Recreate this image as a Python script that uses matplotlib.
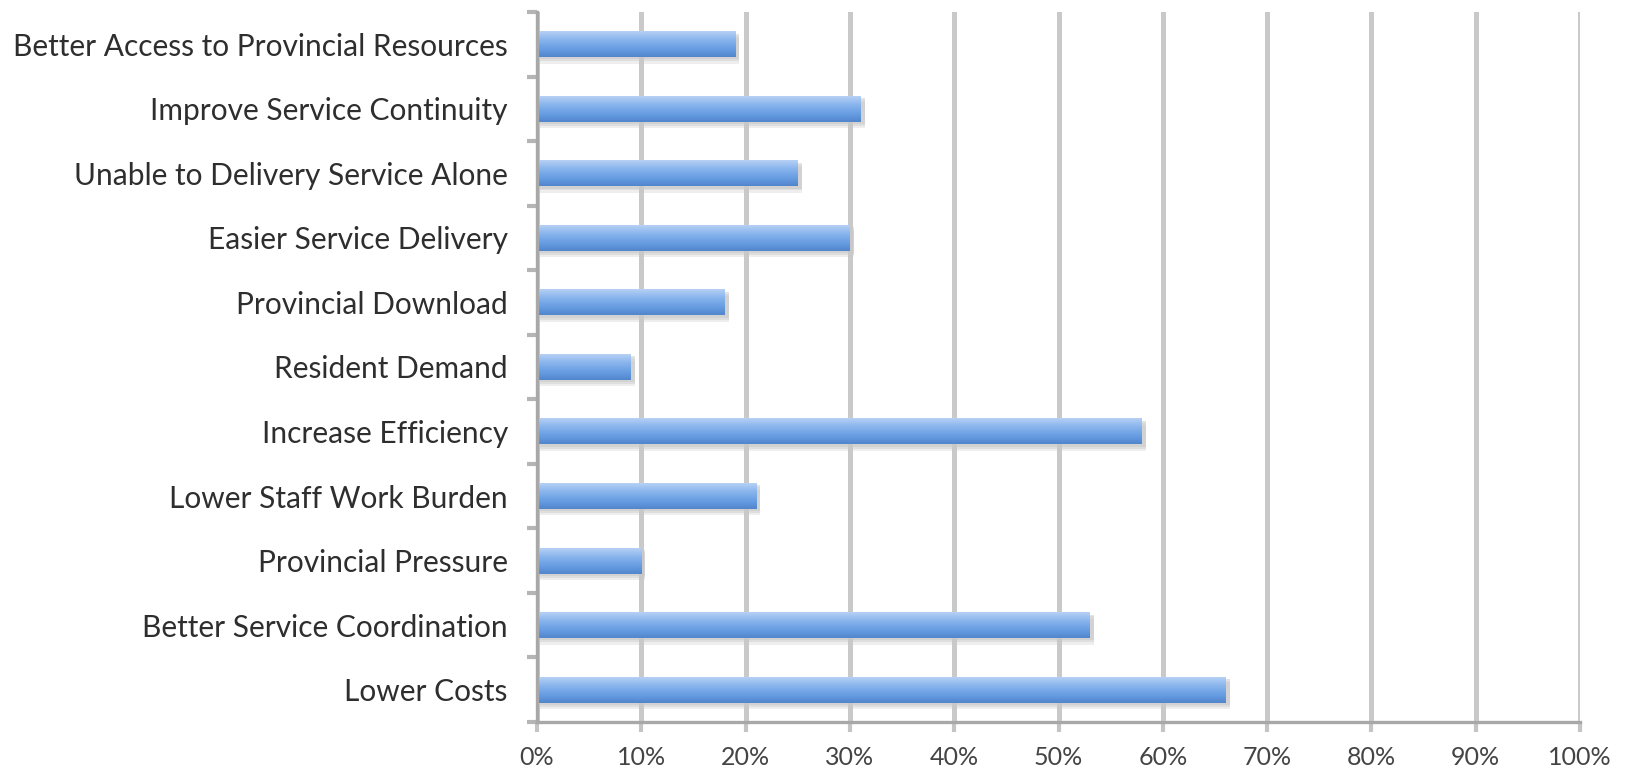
import matplotlib
matplotlib.use("Agg")
import matplotlib.pyplot as plt
import numpy as np
from matplotlib.colors import LinearSegmentedColormap
from matplotlib.ticker import FixedLocator, PercentFormatter

plt.rcParams['font.family'] = ['Lato', 'DejaVu Sans']

# categories listed bottom to top
categories = [
    "Lower Costs",
    "Better Service Coordination",
    "Provincial Pressure",
    "Lower Staff Work Burden",
    "Increase Efficiency",
    "Resident Demand",
    "Provincial Download",
    "Easier Service Delivery",
    "Unable to Delivery Service Alone",
    "Improve Service Continuity",
    "Better Access to Provincial Resources",
]
shares = [66, 53, 10, 21, 58, 9, 18, 30, 25, 31, 19]
xticks = [0, 10, 20, 30, 40, 50, 60, 70, 80, 90, 100]

W, H = 1632, 779
fig = plt.figure(figsize=(W / 100, H / 100), dpi=100)
ax = fig.add_axes([537 / W, 1 - 722 / H, (1580 - 537) / W, (722 - 12) / H])

bar_h = 0.4
grad = LinearSegmentedColormap.from_list(
    "bar", ["#b6d1f4", "#93bbef", "#78a9e8", "#6399df", "#5286cc"])
g = np.linspace(0, 1, 64).reshape(-1, 1)

y = np.arange(len(categories))
# soft drop shadow under each bar
for off, a in [(0.1, 0.3), (0.065, 0.4), (0.035, 0.5)]:
    ax.barh(y - off, [v + 0.4 for v in shares], height=bar_h, left=0,
            color="#c8c8c8", alpha=a, linewidth=0, zorder=2)
# gradient fill for each bar
for yi, v in zip(y, shares):
    ax.imshow(g, cmap=grad, aspect="auto", origin="upper",
              extent=(0, v, yi - bar_h / 2, yi + bar_h / 2),
              interpolation="bilinear", zorder=3)

ax.set_xlim(0, 100)
ax.set_ylim(-0.5, len(categories) - 0.5)

ax.set_xticks(xticks)
ax.xaxis.set_major_formatter(PercentFormatter(decimals=0))
ax.grid(True, axis="x", color="#c9c9c9", linewidth=3.6, zorder=1)
ax.set_axisbelow(True)

ax.set_yticks(y)
ax.set_yticklabels(categories)
ax.yaxis.set_minor_locator(FixedLocator(np.arange(-0.5, len(categories), 1.0)))
ax.tick_params(axis="y", which="major", length=0, pad=21, labelsize=21.5,
               labelcolor="#2e2e2e")
ax.tick_params(axis="y", which="minor", length=7, width=3, color="#b5b5b5")
ax.tick_params(axis="x", length=7, width=3, color="#c4c4c4", pad=10,
               labelsize=18, labelcolor="#444444")

for side in ("top", "right"):
    ax.spines[side].set_visible(False)
for side in ("left", "bottom"):
    ax.spines[side].set_color("#a8a8a8")
    ax.spines[side].set_linewidth(2.4)
    ax.spines[side].set_zorder(4)

fig.savefig("out.png", dpi=100, facecolor="white")
